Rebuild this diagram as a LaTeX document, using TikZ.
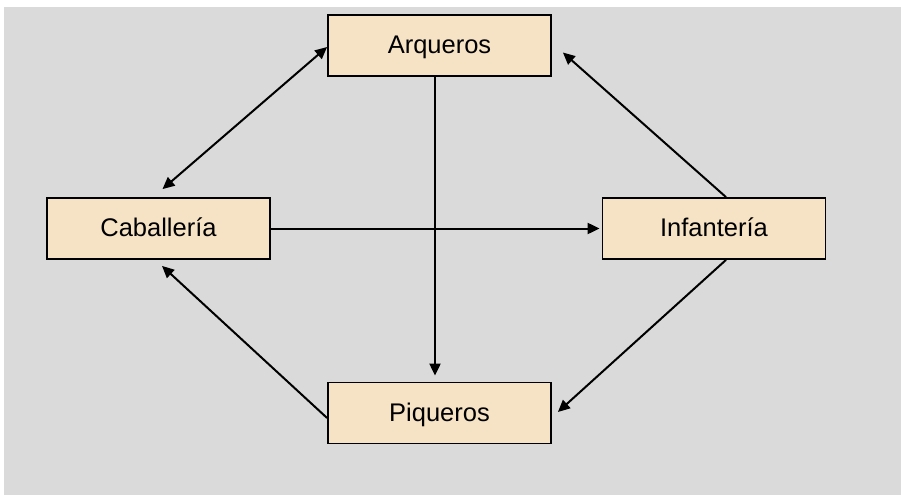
\documentclass[tikz,border=0pt]{standalone}
\usepackage{fontspec}
\setmainfont{Liberation Sans}
\usetikzlibrary{arrows.meta,calc}
\definecolor{bggray}{HTML}{DADADA}
\definecolor{boxfill}{HTML}{F6E3C5}
\begin{document}
\begin{tikzpicture}[x=1pt,y=-1pt,
  box/.style={draw=black, line width=1.8pt, fill=boxfill, minimum width=223pt, minimum height=61pt, inner sep=0pt, text height=21pt, text depth=5pt, font=\fontsize{25.5}{30}\selectfont},
  arr/.style={line width=2pt, -{Triangle[length=12pt,width=11pt]}},
  darr/.style={line width=2pt, {Triangle[length=12pt,width=11pt]}-{Triangle[length=12pt,width=11pt]}}]
\useasboundingbox (0,0) rectangle (901,495);
\fill[bggray] (4,7) rectangle (901,495);
\node[box] (arq) at (439.5,45.5) {Arqueros};
\node[box] (cab) at (158.5,228.5) {Caballería};
\node[box] (inf) at (714,228.5) {Infantería};
\node[box] (piq) at (439.5,413) {Piqueros};
\draw[darr] ($(cab.north)+(4,-8)$) -- ($(arq.west)+(0,1.5)$);
\draw[arr] ($(arq.south)+(-4.5,0)$) -- ($(piq.north)+(-4.5,-6)$);
\draw[arr] (cab.east) -- ($(inf.west)+(-2,0)$);
\draw[arr] ($(inf.north)+(12,0)$) -- ($(arq.east)+(11,7)$);
\draw[arr] ($(inf.south)+(12,0)$) -- ($(piq.east)+(6,-1)$);
\draw[arr] ($(piq.west)+(0,5)$) -- ($(cab.south)+(3.5,6)$);
\end{tikzpicture}
\end{document}
